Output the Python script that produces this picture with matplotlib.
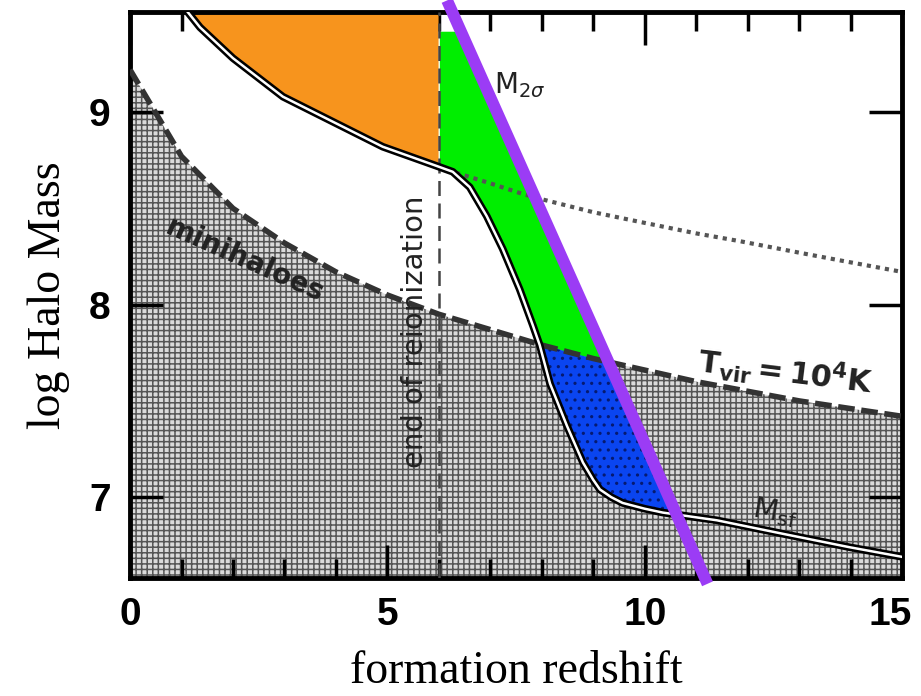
import numpy as np
import matplotlib
matplotlib.use("Agg")
import matplotlib.pyplot as plt
import matplotlib.transforms as mtransforms

# --- data ---
# star-forming mass threshold M_sf (double black line)
msf_z = [1.0, 1.36, 2.0, 2.97, 3.94, 4.91, 5.96, 6.27, 6.60, 6.93, 7.24, 7.57,
         7.83, 7.96, 8.16, 8.49, 8.80, 9.00, 9.13, 9.35, 9.57, 10.0, 10.35,
         11.40, 12.68, 13.98, 15.0]
msf_m = [9.56, 9.44, 9.28, 9.08, 8.95, 8.82, 8.72, 8.69, 8.61, 8.46, 8.29, 8.08,
         7.89, 7.79, 7.59, 7.37, 7.18, 7.09, 7.04, 7.00, 6.97, 6.94, 6.92,
         6.88, 6.81, 6.74, 6.69]

# T_vir = 1e4 K line (top of minihalo region)
tvir_z = [0, 1, 2, 3, 4, 5, 6, 7, 8, 9, 10, 11, 12, 13, 14, 15]
tvir_m = [9.22, 8.77, 8.50, 8.32, 8.17, 8.05, 7.95, 7.87, 7.79, 7.72, 7.66,
          7.60, 7.55, 7.50, 7.46, 7.42]

# M_2sigma dotted line
m2s_z = [6.0, 6.27, 7.0, 7.57, 7.96, 9.0, 9.9, 11.0, 11.84, 13.0, 13.79, 15.0]
m2s_m = [8.72, 8.69, 8.63, 8.58, 8.55, 8.48, 8.43, 8.37, 8.33, 8.27, 8.23, 8.17]

# purple cut line
purple_z = [6.16, 11.22]
purple_m = [9.58, 6.55]

z_reion = 6.0
green_top = 9.42

fig = plt.figure(figsize=(9.21, 6.96), dpi=100)
ax = fig.add_axes([0.1412, 0.1695, 0.8382, 0.8133])
ax.set_xlim(0, 15)
ax.set_ylim(6.58, 9.52)

# hatched minihalo region
plt.rcParams['hatch.linewidth'] = 1.1
zz = np.linspace(0, 15, 600)
tv = np.interp(zz, tvir_z, tvir_m)
ax.fill_between(zz, 6.0, tv, facecolor="#dadada", edgecolor="#555555",
                hatch="+++", linewidth=0, zorder=1)

# coloured regions
ms = np.interp(zz, msf_z, msf_m, left=10)
pu = np.interp(zz, purple_z, purple_m)
mask_or = (zz >= msf_z[0]) & (zz <= z_reion)
ax.fill_between(zz, ms, 10, where=mask_or, color="#f7941d", lw=0, zorder=2)

g_lo = np.maximum(ms, tv)
g_hi = np.minimum(pu, green_top)
mask_g = (zz >= z_reion) & (g_hi > g_lo)
ax.fill_between(zz, g_lo, g_hi, where=mask_g, color="#00ee00", lw=0, zorder=2)

b_hi = np.minimum(tv, pu)
mask_b = (zz >= 7.9) & (b_hi > ms)
ax.fill_between(zz, ms, b_hi, where=mask_b, facecolor="#0a45f0",
                edgecolor="#061a70", hatch="..", lw=0, zorder=2)

# lines
ax.plot(tvir_z, tvir_m, color="#333333", lw=4, ls=(0, (3, 1.2)), zorder=3)
ax.plot(m2s_z, m2s_m, color="#555555", lw=3, ls=(0, (1, 1.2)), zorder=3)
ax.plot(msf_z, msf_m, color="black", lw=5.5, zorder=4)
ax.plot(msf_z, msf_m, color="white", lw=1.8, zorder=4)
ax.axvline(z_reion, color="#444444", lw=1.8, ls=(0, (6, 3)), zorder=3)
ax.plot(purple_z, purple_m, color="#9b3cf5", lw=8.5, solid_capstyle="butt",
        clip_on=False, zorder=6)

# annotations
ax.text(2.23, 8.23, "minihaloes", rotation=-24, fontsize=20, fontweight="bold",
        color="#222222", ha="center", va="center", zorder=5)
ax.text(5.54, 7.86, "end of reionization", rotation=90, fontsize=21,
        color="#222222", ha="center", va="center", zorder=5)
ax.text(12.74, 7.65, r"$\mathbf{T_{vir}=10^4K}$", rotation=-7, fontsize=22,
        color="#222222", ha="center", va="center", zorder=5)
ax.text(12.53, 6.92, r"M$_{\rm sf}$", rotation=-10, fontsize=21,
        color="#222222", ha="center", va="center", zorder=5)
ax.text(7.58, 9.14, r"M$_{2\sigma}$", fontsize=20, color="#222222",
        ha="center", va="center", zorder=5)

# axes styling
ax.set_xticks([0, 5, 10, 15])
ax.set_xticks(np.arange(0, 16, 1), minor=True)
ax.set_yticks([7, 8, 9])
ax.tick_params(which="both", direction="in", top=True, right=True, width=2.5)
ax.tick_params(which="major", length=24, pad=14)
ax.tick_params(which="minor", length=14)
for lab in ax.get_xticklabels() + ax.get_yticklabels():
    lab.set_family(["Liberation Sans", "DejaVu Sans"])
    lab.set_fontsize(28)
    lab.set_fontweight("bold")
# last x label sits at the figure edge; nudge it inside
last = ax.get_xticklabels()[-1]
last.set_transform(last.get_transform() +
                   mtransforms.ScaledTranslation(-12 / 100, 0, fig.dpi_scale_trans))
for s in ax.spines.values():
    s.set_linewidth(3.5)

ax.set_xlabel("formation redshift", family="Liberation Serif", fontsize=33,
              labelpad=12)
ax.set_ylabel("log Halo Mass", family="Liberation Serif", fontsize=33,
              labelpad=14)

fig.savefig("out.png", dpi=100)
